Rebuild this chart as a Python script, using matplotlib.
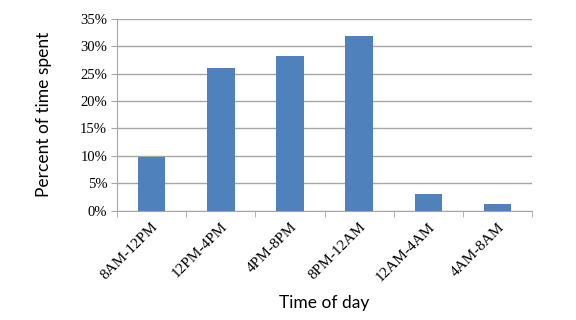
import numpy as np
import matplotlib.pyplot as plt
from matplotlib.ticker import PercentFormatter

## Data
slots = ["8AM-12PM", "12PM-4PM", "4PM-8PM", "8PM-12AM", "12AM-4AM", "4AM-8AM"]
percent = [9.8, 26.0, 28.2, 31.8, 3.0, 1.2]

fig = plt.figure(figsize=(5.76, 3.2), dpi=100)
ax = fig.add_axes([0.203, 0.342, 0.721, 0.599])

x = np.arange(len(slots))
ax.bar(x, percent, width=0.4, color="#4f81bd", zorder=3)

ax.set_xlim(-0.5, len(slots) - 0.5)
ax.set_ylim(0, 35)
ax.set_yticks(np.arange(0, 36, 5))
ax.yaxis.set_major_formatter(PercentFormatter(decimals=0))
ax.grid(axis="y", color="#a6a6a6", linewidth=1.0, zorder=0)

# category ticks sit between the bars
ax.set_xticks(x)
ax.set_xticklabels(slots, rotation=45, ha="right", rotation_mode="anchor",
                   fontsize=11, family="Liberation Serif")
ax.set_xticks(np.arange(-0.5, len(slots)), minor=True)
ax.tick_params(axis="x", which="major", length=0, pad=7)
ax.tick_params(axis="x", which="minor", length=4, color="#a6a6a6", direction="out")
ax.tick_params(axis="y", length=4, color="#a6a6a6", labelsize=10.5, pad=3)
for lab in ax.get_yticklabels():
    lab.set_family("Liberation Serif")

for side in ["top", "right"]:
    ax.spines[side].set_visible(False)
for side in ["left", "bottom"]:
    ax.spines[side].set_color("#a6a6a6")

ax.set_ylabel("Percent of time spent", fontsize=12.5, family="Lato", labelpad=20)
ax.set_xlabel("Time of day", fontsize=12.5, family="Lato", labelpad=8)

fig.savefig("out.png", dpi=100)
